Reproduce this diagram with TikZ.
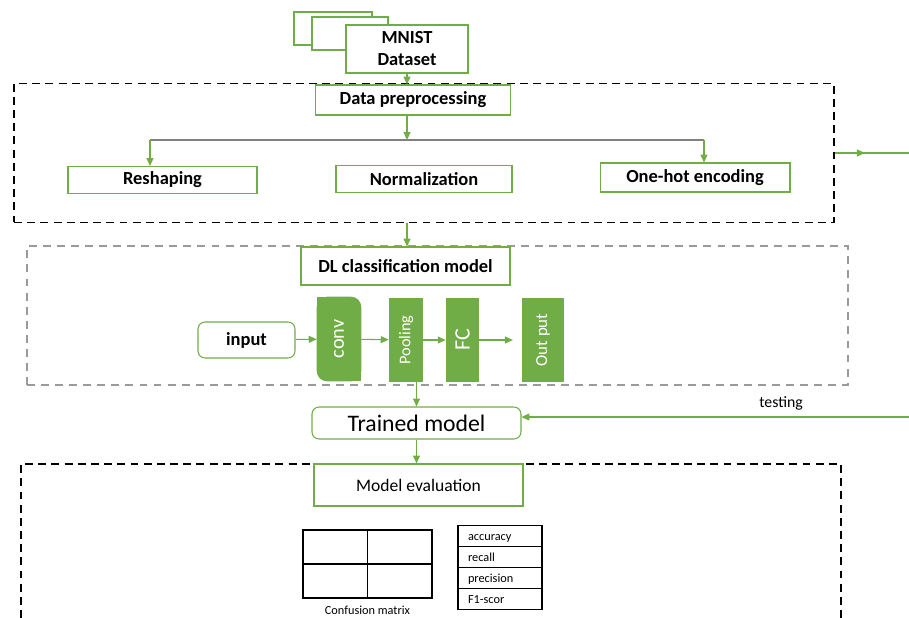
\documentclass[tikz,border=0pt]{standalone}
\usepackage{fontspec}
\usepackage{graphicx}
\setmainfont{Carlito}
\usetikzlibrary{arrows.meta,backgrounds}
\definecolor{boxgreen}{HTML}{70AD47}
\definecolor{framegray}{HTML}{9A9A9A}
\definecolor{linegray}{HTML}{808080}

\begin{document}
\begin{tikzpicture}[x=0.02cm,y=-0.02cm,
    gbox/.style={draw=boxgreen,line width=0.6pt,fill=white,inner sep=0pt},
    gblock/.style={text=white,inner sep=0pt,minimum height=1.68cm},
    dashframe/.style={draw,line width=1pt,dash pattern=on 4.5pt off 3pt},
    garrow/.style={draw=boxgreen,line width=0.6pt,-{Triangle[length=4.5pt,width=4pt]}},
    bfont/.style={font=\bfseries\fontsize{10.5}{12.5}\selectfont},
    small/.style={font=\fontsize{7}{8}\selectfont}]
  \useasboundingbox (0,0) rectangle (909,618);

  % dataset
  \draw[boxgreen,line width=0.6pt] (294,12) rectangle (372,45);
  \draw[boxgreen,line width=0.6pt,fill=white] (312,17) rectangle (388,50);
  \node[gbox,bfont,minimum width=2.44cm,minimum height=0.96cm,align=center] at (407,49) (mnist) {MNIST\\Dataset};

  % preprocessing
  \node[dashframe,minimum width=16.4cm,minimum height=2.78cm] at (424,153) (prepframe) {};
  \node[gbox,bfont,minimum width=3.9cm,minimum height=0.6cm] at (413,100) (prep) {Data preprocessing};
  \node[gbox,bfont,minimum width=3.78cm,minimum height=0.54cm] at (162.5,180) (reshape) {Reshaping};
  \node[gbox,bfont,minimum width=3.52cm,minimum height=0.54cm] at (424,179) (norm) {Normalization};
  \node[gbox,bfont,minimum width=3.8cm,minimum height=0.58cm] at (695,177.5) (onehot) {One-hot encoding};
  \coordinate (fork) at (407,140);
  \coordinate (forkL) at (150,140);
  \coordinate (forkR) at (704,140);
  \coordinate (exitB) at (909,153);

  \draw[garrow] (mnist.south) -- (mnist.south |- prep.north);
  \draw[linegray,line width=0.8pt] (forkL) -- (forkR);
  \draw[garrow] (prep.south -| fork) -- (fork);
  \draw[garrow] (forkL) -- (forkL |- reshape.north);
  \draw[garrow] (forkR) -- (forkR |- onehot.north);
  \draw[boxgreen,line width=0.6pt] (prepframe.east) -- (exitB);
  \draw[garrow] (prepframe.east) -- ++(30,0);

  % DL model
  \node[dashframe,framegray,line width=0.8pt,dash pattern=on 4.5pt off 3.5pt,minimum width=16.42cm,minimum height=2.78cm] at (437.5,315.5) (dlframe) {};
  \node[gbox,bfont,minimum width=4.18cm,minimum height=0.76cm] at (405.5,266) (dl) {DL classification model};
  \node[gbox,bfont,rounded corners=4pt,minimum width=1.94cm,minimum height=0.72cm] at (246.5,340) (input) {input};
  \node[gblock,minimum width=0.88cm,font=\fontsize{11.5}{13}\selectfont] at (339,339) (conv) {\rotatebox{90}{conv}};
  \node[gblock,fill=boxgreen,minimum width=0.68cm,font=\fontsize{9.3}{11}\selectfont] at (406,340) (pool) {\rotatebox{90}{Pooling}};
  \node[gblock,fill=boxgreen,minimum width=0.66cm,font=\fontsize{12.5}{14}\selectfont] at (462.5,340) (fc) {\rotatebox{90}{FC}};
  \node[gblock,fill=boxgreen,minimum width=0.84cm,font=\fontsize{9.6}{11}\selectfont] at (543,340) (outp) {\rotatebox{90}{Out put}};
  \begin{scope}[on background layer]
    \fill[boxgreen,rounded corners=6pt] (conv.north west) rectangle (conv.south east);
    \fill[boxgreen] (conv.north west) rectangle ++(8,8);
    \fill[boxgreen] (conv.south east) rectangle ++(-8,-8);
  \end{scope}

  \draw[garrow] (prepframe.south -| fork) -- (fork |- dl.north);
  \draw[garrow] (input) -- (conv);
  \draw[garrow] (conv) -- (pool);
  \draw[garrow] (pool) -- (fc);
  \draw[garrow,shorten >=5pt] (fc) -- (outp);

  % trained model
  \node[gbox,rounded corners=4pt,minimum width=4.18cm,minimum height=0.64cm,font=\fontsize{13.5}{15}\selectfont] at (416.5,423) (trained) {Trained model};
  \coordinate (testin) at (909,417);
  \draw[garrow] (trained.north |- pool.south) -- (trained.north);
  \draw[garrow] (testin) -- (trained.east |- testin)
    node[pos=0.33,above=0pt,font=\fontsize{9}{10}\selectfont,text=black] {testing};

  % evaluation
  \draw[dashframe] (21,618) -- (21,464) -- (841,464) -- (841,618);
  \node[gbox,minimum width=4.18cm,minimum height=0.84cm,font=\fontsize{10}{12}\selectfont] at (418.5,485) (eval) {Model evaluation};
  \draw[garrow] (trained.south) -- (trained.south |- eval.north);

  \node[draw,line width=0.7pt,minimum width=2.58cm,minimum height=1.36cm] at (367.5,564) (cmat) {};
  \draw[line width=0.7pt] (cmat.north) -- (cmat.south);
  \draw[line width=0.7pt] (cmat.west) -- (cmat.east);
  \node[small,anchor=north,inner sep=0pt] at ([yshift=-4pt]cmat.south) (cmlabel) {Confusion matrix};

  \foreach \m [count=\i] in {accuracy,recall,precision,F1-scor}
    \node[draw,line width=0.7pt,small,minimum width=1.68cm,minimum height=0.42cm,inner sep=0pt,text height=1.6ex,text depth=0.5ex,text width=1.28cm,align=left] at (500,{515+21*\i}) (metric\i) {\m};
\end{tikzpicture}
\end{document}
